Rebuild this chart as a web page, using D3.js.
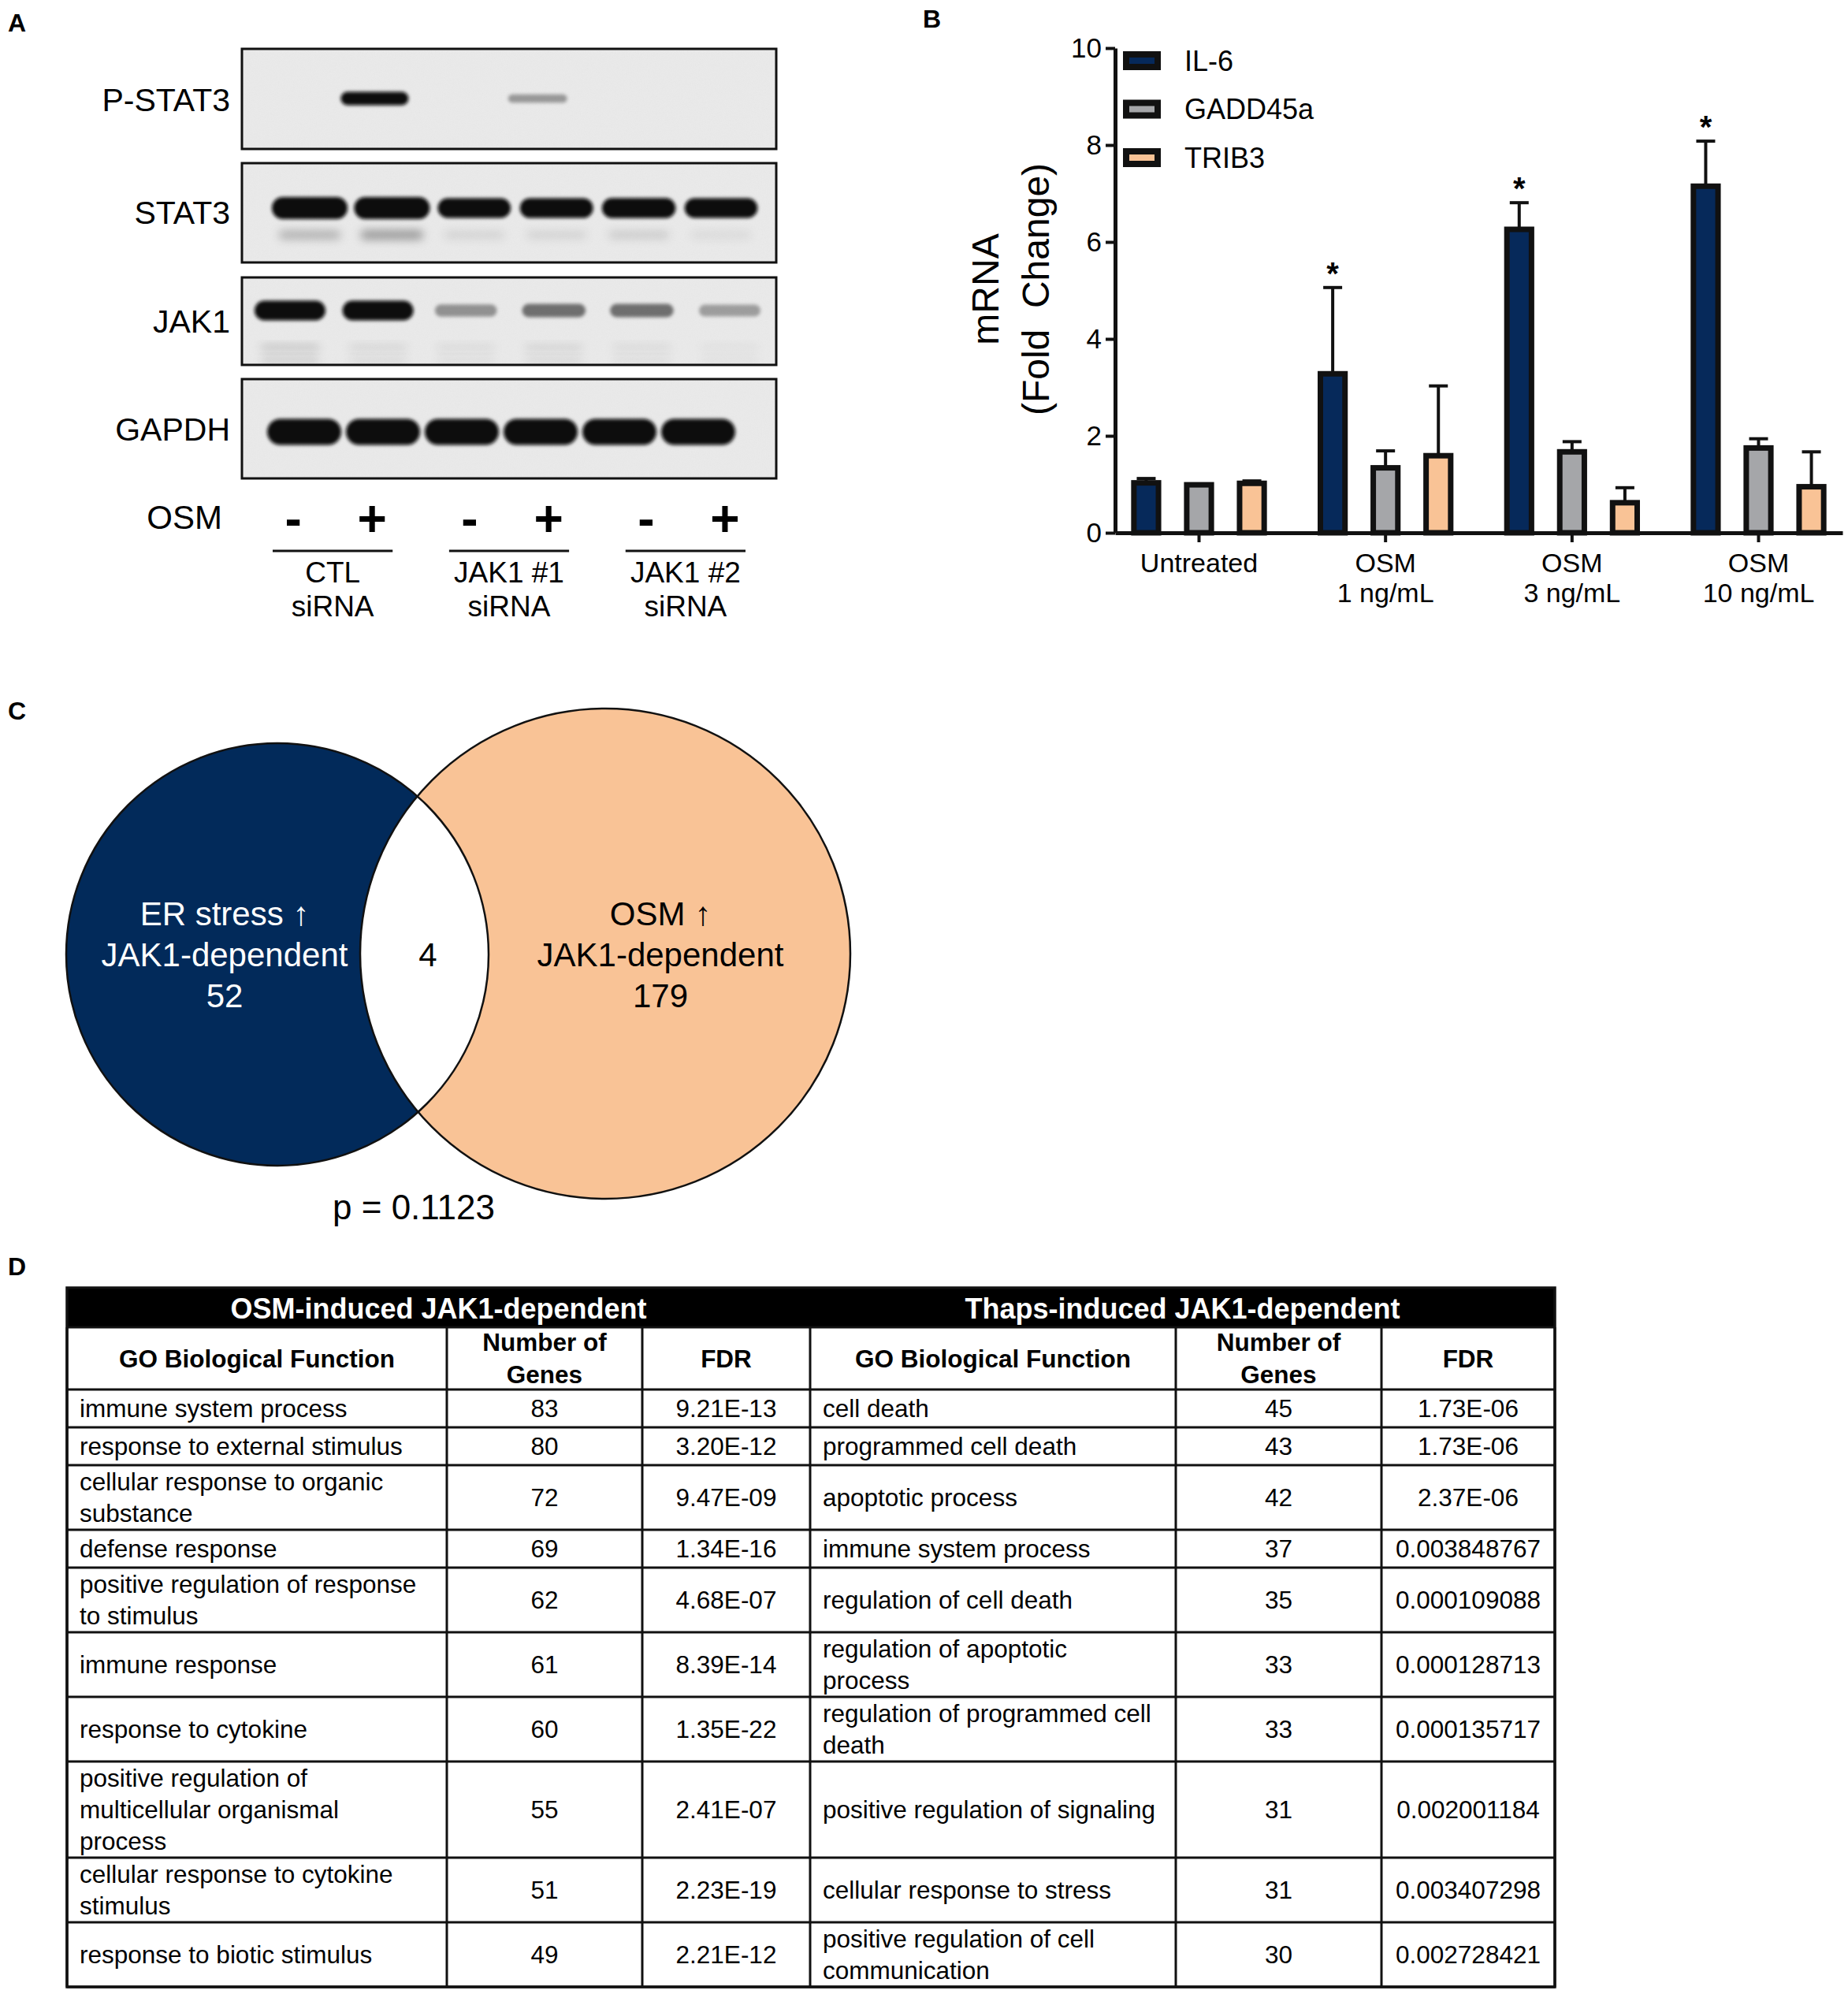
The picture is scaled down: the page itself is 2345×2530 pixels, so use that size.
<!DOCTYPE html>
<html>
<head>
<meta charset="utf-8">
<title>JAK1 / OSM figure</title>
<script src="https://cdn.jsdelivr.net/npm/d3@7/dist/d3.min.js"></script>
<style>
  body { margin: 0; background: #fff; }
  svg { display: block; }
  text { font-family: "Liberation Sans", Arial, Helvetica, sans-serif; fill: #000; }
</style>
</head>
<body>
<svg id="figure"></svg>
<script>
/* ===================================
   Data
   =================================== */

// Panel A - western blot
const blotNames = ['P-STAT3', 'STAT3', 'JAK1', 'GAPDH'];
const osmTreatment = ['-', '+', '-', '+', '-', '+'];
const siRNAGroups = ['CTL\nsiRNA', 'JAK1 #1\nsiRNA', 'JAK1 #2\nsiRNA'];
// relative band intensity per lane (0 = nothing, 1 = saturated)
const pstat3Bands = [0, 1, 0, 0.28, 0, 0];
const stat3Bands = [1, 1, 0.8, 0.82, 0.85, 0.8];
const stat3LowerBands = [0.2, 0.28, 0.08, 0.08, 0.11, 0.06];
const jak1Bands = [1, 1, 0.3, 0.42, 0.42, 0.26];
const jak1LowerBands = [0.16, 0.1, 0.08, 0.11, 0.08, 0.05];
const gapdhBands = [1, 1, 1, 1, 1, 1];

// Panel B - qPCR
const conditions = ['Untreated', 'OSM\n1 ng/mL', 'OSM\n3 ng/mL', 'OSM\n10 ng/mL'];
const genes = ['IL-6', 'GADD45a', 'TRIB3'];
const il6Mean = [1.03, 3.28, 6.26, 7.15];
const il6Sem = [0.09, 1.78, 0.55, 0.93];
const gadd45aMean = [0.99, 1.34, 1.67, 1.75];
const gadd45aSem = [0.01, 0.35, 0.21, 0.19];
const trib3Mean = [1.02, 1.59, 0.62, 0.95];
const trib3Sem = [0.05, 1.44, 0.31, 0.72];
const il6Signif = ['', '*', '*', '*'];
const yTicks = [0, 2, 4, 6, 8, 10];

// Panel C - Venn
const vennLabels = ['ER stress \u2191\nJAK1-dependent', 'OSM \u2191\nJAK1-dependent'];
const vennCounts = [52, 4, 179]; // left only, shared, right only
const vennPValue = '0.1123';

// Panel D - GO table
const tableTitles = ['OSM-induced JAK1-dependent', 'Thaps-induced JAK1-dependent'];
const tableHeaders = ['GO Biological Function', 'Number of\nGenes', 'FDR'];
const osmTerms = [
    'immune system process',
    'response to external stimulus',
    'cellular response to organic\nsubstance',
    'defense response',
    'positive regulation of response\nto stimulus',
    'immune response',
    'response to cytokine',
    'positive regulation of\nmulticellular organismal\nprocess',
    'cellular response to cytokine\nstimulus',
    'response to biotic stimulus'
];
const osmGenes = [83, 80, 72, 69, 62, 61, 60, 55, 51, 49];
const osmFdr = ['9.21E-13', '3.20E-12', '9.47E-09', '1.34E-16', '4.68E-07',
                '8.39E-14', '1.35E-22', '2.41E-07', '2.23E-19', '2.21E-12'];
const thapsTerms = [
    'cell death',
    'programmed cell death',
    'apoptotic process',
    'immune system process',
    'regulation of cell death',
    'regulation of apoptotic\nprocess',
    'regulation of programmed cell\ndeath',
    'positive regulation of signaling',
    'cellular response to stress',
    'positive regulation of cell\ncommunication'
];
const thapsGenes = [45, 43, 42, 37, 35, 33, 33, 31, 31, 30];
const thapsFdr = ['1.73E-06', '1.73E-06', '2.37E-06', '0.003848767', '0.000109088',
                  '0.000128713', '0.000135717', '0.002001184', '0.003407298', '0.002728421'];

/* ===================================
   Setup
   =================================== */
const W = 2345, H = 2530;
const svg = d3.select('#figure')
    .attr('width', W)
    .attr('height', H)
    .attr('viewBox', `0 0 ${W} ${H}`);
const defs = svg.append('defs');

function multiline(textSel, str, x, yMid, lineH) {
    const lines = String(str).split('\n');
    const y0 = yMid - (lines.length - 1) * lineH / 2;
    lines.forEach((ln, i) => {
        textSel.append('tspan')
            .attr('x', x)
            .attr('y', y0 + i * lineH)
            .attr('dy', '0.35em')
            .text(ln);
    });
    return textSel;
}

function panelLetter(letter, x, y) {
    svg.append('text')
        .attr('x', x).attr('y', y).attr('dy', '0.35em')
        .style('font-size', '32px').style('font-weight', 'bold')
        .text(letter);
}

panelLetter('A', 10, 29);
panelLetter('B', 1171, 24);
panelLetter('C', 10, 902);
panelLetter('D', 10, 1607);

/* ===================================
   Panel A - western blot
   =================================== */
const blotX0 = 307, blotX1 = 985;
const blotLayout = [
    { top: 62, bottom: 189, labelY: 127, lanes: [372, 889],
      bands: [{ values: pstat3Bands, y: 125, h: 17, w: 86, blur: 2.2 }] },
    { top: 207, bottom: 333, labelY: 270, lanes: [393, 915],
      bands: [{ values: stat3LowerBands, y: 298, h: 20, w: 92, blur: 6 },
              { values: stat3Bands, y: 264, h: 28, w: 96, blur: 2.2 }] },
    { top: 352, bottom: 463, labelY: 408, lanes: [368, 926],
      bands: [{ values: jak1LowerBands, y: 441, h: 12, w: 88, blur: 6 },
              { values: jak1LowerBands, y: 456, h: 10, w: 86, blur: 6 },
              { values: jak1Bands, y: 394, h: 25, w: 90, blur: 2.2 }] },
    { top: 481, bottom: 607, labelY: 545, lanes: [386, 886],
      bands: [{ values: gapdhBands, y: 548, h: 33, w: 94, blur: 2.2 }] }
];

[2.2, 6].forEach(b => {
    defs.append('filter')
        .attr('id', 'blur' + String(b).replace('.', '_'))
        .attr('x', '-30%').attr('y', '-100%').attr('width', '160%').attr('height', '300%')
        .append('feGaussianBlur').attr('stdDeviation', b);
});

const grain = defs.append('filter').attr('id', 'grain');
grain.append('feTurbulence').attr('type', 'fractalNoise')
    .attr('baseFrequency', 0.8).attr('numOctaves', 2).attr('seed', 3);
grain.append('feColorMatrix').attr('type', 'saturate').attr('values', 0);

const gA = svg.append('g').attr('class', 'panel-a');

blotLayout.forEach((blot, bi) => {
    const lane = d3.scalePoint().domain(d3.range(6)).range(blot.lanes);
    const clipId = 'blotclip' + bi;
    defs.append('clipPath').attr('id', clipId)
        .append('rect')
        .attr('x', blotX0).attr('y', blot.top)
        .attr('width', blotX1 - blotX0).attr('height', blot.bottom - blot.top);

    const g = gA.append('g');
    g.append('rect')
        .attr('x', blotX0).attr('y', blot.top)
        .attr('width', blotX1 - blotX0).attr('height', blot.bottom - blot.top)
        .attr('fill', '#eaeaea');
    g.append('rect')
        .attr('x', blotX0).attr('y', blot.top)
        .attr('width', blotX1 - blotX0).attr('height', blot.bottom - blot.top)
        .attr('filter', 'url(#grain)')
        .attr('opacity', 0.06)
        .attr('clip-path', `url(#${clipId})`);

    const bandsG = g.append('g').attr('clip-path', `url(#${clipId})`);
    blot.bands.forEach(band => {
        bandsG.append('g')
            .attr('filter', `url(#blur${String(band.blur).replace('.', '_')})`)
            .selectAll('rect')
            .data(band.values)
            .join('rect')
            .attr('x', (d, i) => lane(i) - band.w * (0.82 + 0.18 * d) / 2)
            .attr('width', d => band.w * (0.82 + 0.18 * d))
            .attr('y', d => band.y - band.h * (0.45 + 0.55 * d) / 2)
            .attr('height', d => band.h * (0.45 + 0.55 * d))
            .attr('rx', d => band.h * (0.45 + 0.55 * d) / 2)
            .attr('fill', '#0a0a0a')
            .attr('opacity', d => Math.min(1, d * 1.25));
    });

    g.append('rect')
        .attr('x', blotX0).attr('y', blot.top)
        .attr('width', blotX1 - blotX0).attr('height', blot.bottom - blot.top)
        .attr('fill', 'none').attr('stroke', '#111').attr('stroke-width', 3);

    gA.append('text')
        .attr('x', 292).attr('y', blot.labelY).attr('dy', '0.35em')
        .attr('text-anchor', 'end')
        .style('font-size', '41px')
        .text(blotNames[bi]);
});

// treatment row + siRNA groups
const groupX = d3.scaleBand().domain(siRNAGroups).range([346, 946]).paddingInner(0.32).paddingOuter(0);
const pairX = d3.scalePoint().domain([0, 1]).range([0, groupX.bandwidth()]).padding(0.26);

gA.append('text')
    .attr('x', 282).attr('y', 656).attr('dy', '0.35em')
    .attr('text-anchor', 'end')
    .style('font-size', '42px')
    .text('OSM');

gA.selectAll('text.sign')
    .data(osmTreatment)
    .join('text')
    .attr('class', 'sign')
    .attr('x', (d, i) => groupX(siRNAGroups[Math.floor(i / 2)]) + pairX(i % 2))
    .attr('y', 658).attr('dy', '0.35em')
    .attr('text-anchor', 'middle')
    .style('font-size', '64px').style('font-weight', 'bold')
    .text(d => d);

siRNAGroups.forEach(grp => {
    const x0 = groupX(grp);
    gA.append('line')
        .attr('x1', x0).attr('x2', x0 + groupX.bandwidth())
        .attr('y1', 699).attr('y2', 699)
        .attr('stroke', '#111').attr('stroke-width', 3);
    multiline(gA.append('text')
        .attr('text-anchor', 'middle')
        .style('font-size', '37px'), grp, x0 + groupX.bandwidth() / 2, 748, 43);
});

/* ===================================
   Panel B - bar chart
   =================================== */
const BAR_COLORS = { 'IL-6': '#06295a', 'GADD45a': '#a5a6a9', 'TRIB3': '#f9c396' };
const seriesMean = { 'IL-6': il6Mean, 'GADD45a': gadd45aMean, 'TRIB3': trib3Mean };
const seriesSem = { 'IL-6': il6Sem, 'GADD45a': gadd45aSem, 'TRIB3': trib3Sem };

const bx = d3.scaleBand().domain(conditions).range([1415, 2338]).paddingInner(0.15).paddingOuter(0.025);
const bxInner = d3.scaleBand().domain(genes).range([0, bx.bandwidth()]).paddingInner(0.43).paddingOuter(0.215);
const by = d3.scaleLinear().domain([0, 10]).range([676, 61]);

const barData = conditions.flatMap((c, ci) => genes.map(gn => ({
    cond: c,
    gene: gn,
    mean: seriesMean[gn][ci],
    sem: seriesSem[gn][ci],
    sig: gn === 'IL-6' ? il6Signif[ci] : ''
})));

const gB = svg.append('g').attr('class', 'panel-b');
const barCx = d => bx(d.cond) + bxInner(d.gene) + bxInner.bandwidth() / 2;
const BAR_STROKE = 7;

// error bars (upper only)
const err = gB.append('g').selectAll('g').data(barData).join('g');
err.append('line')
    .attr('x1', barCx).attr('x2', barCx)
    .attr('y1', d => by(d.mean)).attr('y2', d => by(d.mean + d.sem))
    .attr('stroke', '#111').attr('stroke-width', 4);
err.append('line')
    .attr('x1', d => barCx(d) - 12).attr('x2', d => barCx(d) + 12)
    .attr('y1', d => by(d.mean + d.sem)).attr('y2', d => by(d.mean + d.sem))
    .attr('stroke', '#111').attr('stroke-width', 4);

gB.append('g').selectAll('rect').data(barData).join('rect')
    .attr('x', d => bx(d.cond) + bxInner(d.gene) + BAR_STROKE / 2)
    .attr('width', bxInner.bandwidth() - BAR_STROKE)
    .attr('y', d => by(d.mean))
    .attr('height', d => by(0) - by(d.mean))
    .attr('fill', d => BAR_COLORS[d.gene])
    .attr('stroke', '#111')
    .attr('stroke-width', BAR_STROKE);

gB.append('g').selectAll('text').data(barData.filter(d => d.sig)).join('text')
    .attr('x', barCx)
    .attr('y', d => by(d.mean + d.sem) - 4)
    .attr('dy', '0.72em')
    .attr('transform', 'translate(0,-29)')
    .attr('text-anchor', 'middle')
    .style('font-size', '40px').style('font-weight', 'bold')
    .text(d => d.sig);

// axes
const yAxis = gB.append('g')
    .attr('transform', 'translate(1415,0)')
    .call(d3.axisLeft(by).tickValues(yTicks).tickSize(12).tickSizeOuter(0).tickPadding(5));
yAxis.select('.domain').attr('stroke', '#111').attr('stroke-width', 5);
yAxis.selectAll('.tick line').attr('stroke', '#111').attr('stroke-width', 4);
yAxis.selectAll('.tick text').style('font-size', '35px').attr('fill', '#000');

const xAxis = gB.append('g')
    .attr('transform', 'translate(0,676)')
    .call(d3.axisBottom(bx).tickSize(12).tickSizeOuter(0));
xAxis.select('.domain').attr('stroke', '#111').attr('stroke-width', 5);
xAxis.selectAll('.tick line').attr('stroke', '#111').attr('stroke-width', 4);
xAxis.selectAll('.tick text').remove();
xAxis.selectAll('.tick').each(function (d) {
    const lines = d.split('\n');
    const t = d3.select(this).append('text')
        .attr('text-anchor', 'middle')
        .style('font-size', '34px')
        .attr('fill', '#000');
    lines.forEach((ln, i) => {
        t.append('tspan').attr('x', 0).attr('y', 38 + i * 38).attr('dy', '0.35em').text(ln);
    });
});

// y label
[['mRNA', 1250], ['(Fold  Change)', 1314]].forEach(([txt, x]) => {
    gB.append('text')
        .attr('transform', `translate(${x},367) rotate(-90)`)
        .attr('text-anchor', 'middle')
        .attr('dy', '0.35em')
        .style('font-size', '48px')
        .style('white-space', 'pre')
        .text(txt);
});

// legend
const legend = gB.append('g').selectAll('g').data(genes).join('g')
    .attr('transform', (d, i) => `translate(1429, ${77 + i * 61.5})`);
legend.append('rect')
    .attr('x', 0).attr('y', -8).attr('width', 40).attr('height', 16)
    .attr('fill', d => BAR_COLORS[d])
    .attr('stroke', '#111').attr('stroke-width', 8);
legend.append('text')
    .attr('x', 74).attr('y', 0).attr('dy', '0.35em')
    .style('font-size', '36px')
    .text(d => d);

/* ===================================
   Panel C - Venn diagram
   =================================== */
const vennLayout = {
    left: { cx: 352, cy: 1211, r: 268, labelX: 285 },
    right: { cx: 768, cy: 1210, r: 311, labelX: 838 },
    sharedX: 543, labelY: 1211, pY: 1532, pX: 525
};
const gC = svg.append('g').attr('class', 'panel-c');
const L = vennLayout.left, R = vennLayout.right;

defs.append('clipPath').attr('id', 'vennLeftClip')
    .append('circle').attr('cx', L.cx).attr('cy', L.cy).attr('r', L.r);

gC.append('circle').attr('cx', L.cx).attr('cy', L.cy).attr('r', L.r).attr('fill', '#022a5a');
gC.append('circle').attr('cx', R.cx).attr('cy', R.cy).attr('r', R.r).attr('fill', '#f9c396');
gC.append('circle').attr('cx', R.cx).attr('cy', R.cy).attr('r', R.r)
    .attr('fill', '#ffffff').attr('clip-path', 'url(#vennLeftClip)');
gC.selectAll('circle.outline').data([L, R]).join('circle')
    .attr('class', 'outline')
    .attr('cx', d => d.cx).attr('cy', d => d.cy).attr('r', d => d.r)
    .attr('fill', 'none').attr('stroke', '#111').attr('stroke-width', 2.5);

multiline(gC.append('text').attr('text-anchor', 'middle').style('font-size', '42px').style('fill', '#fff'),
    `${vennLabels[0]}\n${vennCounts[0]}`, L.labelX, vennLayout.labelY, 52);
multiline(gC.append('text').attr('text-anchor', 'middle').style('font-size', '42px'),
    `${vennLabels[1]}\n${vennCounts[2]}`, R.labelX, vennLayout.labelY, 52);
gC.append('text')
    .attr('x', vennLayout.sharedX).attr('y', vennLayout.labelY).attr('dy', '0.35em')
    .attr('text-anchor', 'middle').style('font-size', '42px')
    .text(vennCounts[1]);
gC.append('text')
    .attr('x', vennLayout.pX).attr('y', vennLayout.pY).attr('dy', '0.35em')
    .attr('text-anchor', 'middle').style('font-size', '44px')
    .text(`p = ${vennPValue}`);

/* ===================================
   Panel D - GO table
   =================================== */
const colX = [85, 567, 815, 1028, 1492, 1753, 1973];
const titleTop = 1634, headerTop = 1684, bodyTop = 1763;
const ROW_H = [0, 48, 82, 122];
const LINE_H = 40;
const nLines = s => s.split('\n').length;
const rowHeights = osmTerms.map((t, i) => ROW_H[Math.max(nLines(t), nLines(thapsTerms[i]))]);
const rowEdges = [bodyTop, ...d3.cumsum(rowHeights).map(v => bodyTop + v)];
const tableBottom = rowEdges[rowEdges.length - 1];

const gD = svg.append('g').attr('class', 'panel-d');

gD.append('rect')
    .attr('x', colX[0]).attr('y', titleTop)
    .attr('width', colX[6] - colX[0]).attr('height', headerTop - titleTop)
    .attr('fill', '#000');
tableTitles.forEach((t, i) => {
    gD.append('text')
        .attr('x', (colX[i * 3] + colX[i * 3 + 3]) / 2)
        .attr('y', (titleTop + headerTop) / 2 + 1).attr('dy', '0.35em')
        .attr('text-anchor', 'middle')
        .style('font-size', '36px').style('font-weight', 'bold').style('fill', '#fff')
        .text(t);
});

// header cells
[0, 1].forEach(half => {
    tableHeaders.forEach((h, ci) => {
        const x0 = colX[half * 3 + ci], x1 = colX[half * 3 + ci + 1];
        multiline(gD.append('text')
            .attr('text-anchor', 'middle')
            .style('font-size', '31.5px').style('font-weight', 'bold'),
            h, (x0 + x1) / 2, (headerTop + bodyTop) / 2, 41);
    });
});

// body cells
const tables = [
    { terms: osmTerms, genes: osmGenes, fdr: osmFdr, c: 0 },
    { terms: thapsTerms, genes: thapsGenes, fdr: thapsFdr, c: 3 }
];
tables.forEach(tb => {
    tb.terms.forEach((term, ri) => {
        const yMid = (rowEdges[ri] + rowEdges[ri + 1]) / 2;
        multiline(gD.append('text').attr('text-anchor', 'start').style('font-size', '31.5px'),
            term, colX[tb.c] + 16, yMid, LINE_H);
        gD.append('text')
            .attr('x', (colX[tb.c + 1] + colX[tb.c + 2]) / 2).attr('y', yMid).attr('dy', '0.35em')
            .attr('text-anchor', 'middle').style('font-size', '31.5px')
            .text(tb.genes[ri]);
        gD.append('text')
            .attr('x', (colX[tb.c + 2] + colX[tb.c + 3]) / 2).attr('y', yMid).attr('dy', '0.35em')
            .attr('text-anchor', 'middle').style('font-size', '31.5px')
            .text(tb.fdr[ri]);
    });
});

// grid lines
gD.append('g').selectAll('line').data([headerTop, ...rowEdges]).join('line')
    .attr('x1', colX[0]).attr('x2', colX[6])
    .attr('y1', d => d).attr('y2', d => d)
    .attr('stroke', '#111').attr('stroke-width', 3);
gD.append('g').selectAll('line').data(colX).join('line')
    .attr('x1', d => d).attr('x2', d => d)
    .attr('y1', headerTop).attr('y2', tableBottom)
    .attr('stroke', '#111').attr('stroke-width', 3);
gD.append('rect')
    .attr('x', colX[0]).attr('y', titleTop)
    .attr('width', colX[6] - colX[0]).attr('height', tableBottom - titleTop)
    .attr('fill', 'none').attr('stroke', '#111').attr('stroke-width', 3.5);
</script>
</body>
</html>
